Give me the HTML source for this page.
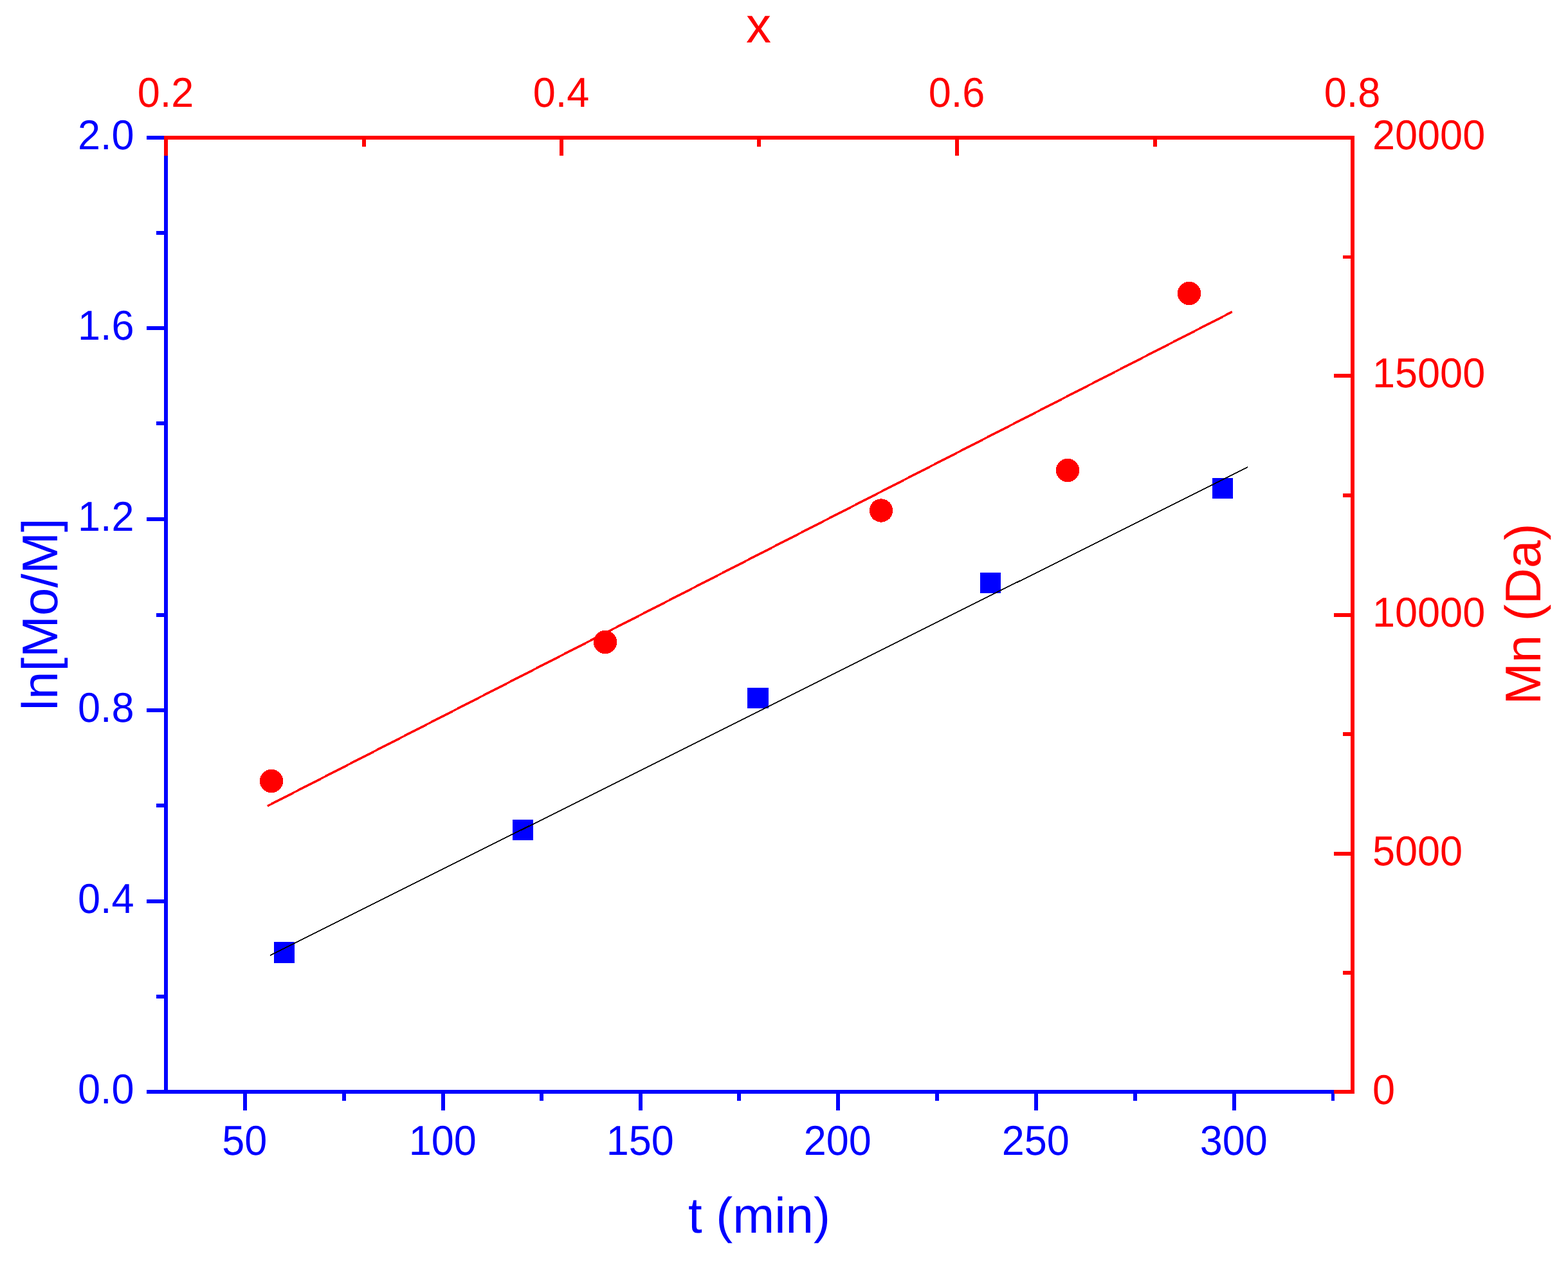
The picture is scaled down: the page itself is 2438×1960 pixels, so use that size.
<!DOCTYPE html>
<html lang="en">
<head>
<meta charset="utf-8">
<title>ln[Mo/M] vs t (min) and Mn (Da) vs x</title>
<style>
html,body{margin:0;padding:0;background:#ffffff;}
body{width:2438px;height:1960px;overflow:hidden;}
svg{display:block;}
text{font-family:"Liberation Sans", sans-serif;text-rendering:geometricPrecision;}
.tk{font-size:63px;}
.ti{font-size:78px;}
.b{fill:#0000ff;}
.r{fill:#ff0000;}
</style>
</head>
<body>
<svg width="2438" height="1960" viewBox="0 0 2438 1960" role="img" aria-label="ln[Mo/M] versus t (min) and Mn (Da) versus x">
<rect x="0" y="0" width="2438" height="1960" fill="#ffffff"/>
<g shape-rendering="crispEdges">
<rect class="b" x="255" y="211" width="6" height="1489"/>
<rect class="b" x="228" y="211" width="27" height="6"/>
<rect class="b" x="228" y="507" width="27" height="6"/>
<rect class="b" x="228" y="804" width="27" height="6"/>
<rect class="b" x="228" y="1101" width="27" height="6"/>
<rect class="b" x="228" y="1398" width="27" height="6"/>
<rect class="b" x="228" y="1694" width="27" height="6"/>
<rect class="b" x="243" y="359" width="12" height="6"/>
<rect class="b" x="243" y="655" width="12" height="6"/>
<rect class="b" x="243" y="953" width="12" height="6"/>
<rect class="b" x="243" y="1249" width="12" height="6"/>
<rect class="b" x="243" y="1546" width="12" height="6"/>
<rect class="b" x="255" y="1694" width="1851" height="6"/>
<rect class="b" x="378" y="1700" width="6" height="26"/>
<rect class="b" x="686" y="1700" width="6" height="26"/>
<rect class="b" x="993" y="1700" width="6" height="26"/>
<rect class="b" x="1300" y="1700" width="6" height="26"/>
<rect class="b" x="1608" y="1700" width="6" height="26"/>
<rect class="b" x="1916" y="1700" width="6" height="26"/>
<rect class="b" x="532" y="1700" width="6" height="11"/>
<rect class="b" x="839" y="1700" width="6" height="11"/>
<rect class="b" x="1146" y="1700" width="6" height="11"/>
<rect class="b" x="1454" y="1700" width="6" height="11"/>
<rect class="b" x="1762" y="1700" width="6" height="11"/>
<rect class="b" x="2070" y="1700" width="5" height="11"/>
<rect class="r" x="255" y="211" width="1851" height="6"/>
<rect class="r" x="255" y="217" width="6" height="25"/>
<rect class="r" x="870" y="217" width="6" height="25"/>
<rect class="r" x="1485" y="217" width="6" height="25"/>
<rect class="r" x="2100" y="217" width="6" height="25"/>
<rect class="r" x="563" y="217" width="6" height="11"/>
<rect class="r" x="1177" y="217" width="6" height="11"/>
<rect class="r" x="1793" y="217" width="6" height="11"/>
<rect class="r" x="2100" y="211" width="6" height="1489"/>
<rect class="r" x="2074" y="211" width="26" height="6"/>
<rect class="r" x="2074" y="581" width="26" height="6"/>
<rect class="r" x="2074" y="953" width="26" height="6"/>
<rect class="r" x="2074" y="1324" width="26" height="6"/>
<rect class="r" x="2074" y="1694" width="26" height="6"/>
<rect class="r" x="2088" y="397" width="12" height="5"/>
<rect class="r" x="2088" y="767" width="12" height="6"/>
<rect class="r" x="2088" y="1138" width="12" height="6"/>
<rect class="r" x="2088" y="1509" width="12" height="6"/>
</g>
<g shape-rendering="crispEdges">
<line x1="416" y1="1252.8" x2="1916" y2="484.6" stroke="#ff0000" stroke-width="3.5"/>
<circle class="r" cx="422" cy="1214" r="18.2"/>
<circle class="r" cx="941" cy="998" r="18.2"/>
<circle class="r" cx="1370" cy="793.5" r="18.2"/>
<circle class="r" cx="1660" cy="731" r="18.2"/>
<circle class="r" cx="1849" cy="456" r="18.2"/>
<rect class="b" x="426" y="1464" width="32" height="33"/>
<rect class="b" x="797" y="1274" width="32" height="32"/>
<rect class="b" x="1162" y="1069" width="33" height="32"/>
<rect class="b" x="1524" y="890" width="32" height="32"/>
<rect class="b" x="1885" y="743" width="32" height="32"/>
<line x1="420" y1="1485" x2="1940" y2="726" stroke="#000000" stroke-width="1.8"/>
</g>
<text class="tk b" transform="translate(380.3 1794.9) scale(1 1.03)" text-anchor="middle">50</text>
<text class="tk b" transform="translate(688.3 1794.9) scale(1 1.03)" text-anchor="middle">100</text>
<text class="tk b" transform="translate(995.3 1794.9) scale(1 1.03)" text-anchor="middle">150</text>
<text class="tk b" transform="translate(1302.3 1794.9) scale(1 1.03)" text-anchor="middle">200</text>
<text class="tk b" transform="translate(1610.3 1794.9) scale(1 1.03)" text-anchor="middle">250</text>
<text class="tk b" transform="translate(1918.3 1794.9) scale(1 1.03)" text-anchor="middle">300</text>
<text class="tk r" transform="translate(257.6 166.1) scale(1 1.03)" text-anchor="middle">0.2</text>
<text class="tk r" transform="translate(872.6 166.1) scale(1 1.03)" text-anchor="middle">0.4</text>
<text class="tk r" transform="translate(1487.6 166.1) scale(1 1.03)" text-anchor="middle">0.6</text>
<text class="tk r" transform="translate(2102.6 166.1) scale(1 1.03)" text-anchor="middle">0.8</text>
<text class="tk b" transform="translate(208.5 232.3) scale(1 1.03)" text-anchor="end">2.0</text>
<text class="tk b" transform="translate(208.5 528.3) scale(1 1.03)" text-anchor="end">1.6</text>
<text class="tk b" transform="translate(208.5 825.3) scale(1 1.03)" text-anchor="end">1.2</text>
<text class="tk b" transform="translate(208.5 1122.3) scale(1 1.03)" text-anchor="end">0.8</text>
<text class="tk b" transform="translate(208.5 1419.3) scale(1 1.03)" text-anchor="end">0.4</text>
<text class="tk b" transform="translate(208.5 1715.3) scale(1 1.03)" text-anchor="end">0.0</text>
<text class="tk r" transform="translate(2134 232.1) scale(1 1.03)" text-anchor="start">20000</text>
<text class="tk r" transform="translate(2134 602.4) scale(1 1.03)" text-anchor="start">15000</text>
<text class="tk r" transform="translate(2134 974.4) scale(1 1.03)" text-anchor="start">10000</text>
<text class="tk r" transform="translate(2134 1345.4) scale(1 1.03)" text-anchor="start">5000</text>
<text class="tk r" transform="translate(2134 1716.2) scale(1 1.03)" text-anchor="start">0</text>
<text class="ti r" x="1179.5" y="66" text-anchor="middle">x</text>
<text class="ti b" x="1180.4" y="1915.9" text-anchor="middle">t (min)</text>
<text class="ti b" transform="translate(89 954.8) rotate(-90)" text-anchor="middle">ln[Mo/M]</text>
<text class="ti r" transform="translate(2395 954.5) rotate(-90)" text-anchor="middle">Mn (Da)</text>
</svg>
</body>
</html>
